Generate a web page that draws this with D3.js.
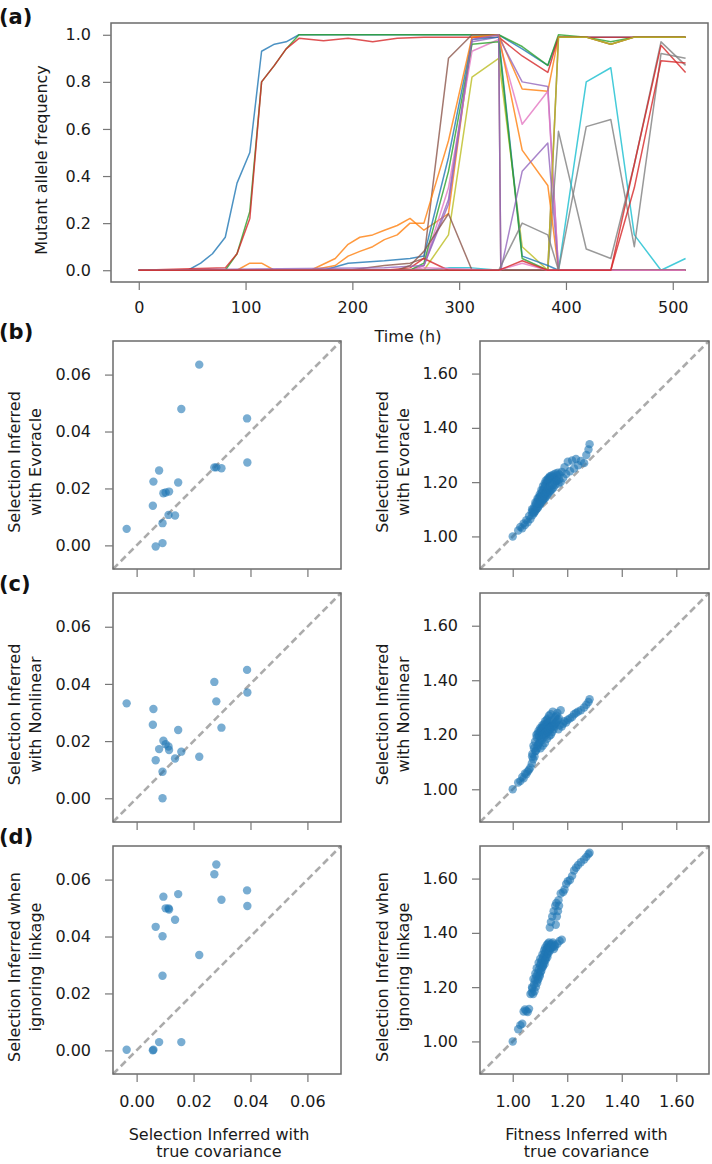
<!DOCTYPE html>
<html><head><meta charset="utf-8">
<script src="https://cdn.jsdelivr.net/npm/d3@7"></script>
<style>
body{margin:0;background:#fff}
svg{display:block}
text{font-family:"DejaVu Sans",sans-serif}
</style>
</head><body>
<svg id="chart" width="712" height="1164"></svg>
<script>
// ---------------- DATA ----------------
// (a) mutant allele frequency trajectories: [time (h), frequency] breakpoints
const traj0  = [[0,0],[46,0],[58,0.03],[69,0.07],[81,0.14],[92,0.37],[104,0.5],[115,0.93],[127,0.96],[138,0.97],[150,1.0],[337,1.0],[359,0.94],[383,0.87],[393,0.99],[512,0.99]];
const traj1  = [[0,0],[92,0],[104,0.03],[115,0.03],[127,0],[161,0],[184,0.05],[196,0.11],[207,0.14],[219,0.15],[230,0.17],[242,0.19],[254,0.22],[267,0.17],[290,0.24],[312,0.99],[337,1.0],[359,0.77],[383,0.76],[393,0.99],[419,0.99],[442,0.96],[464,0.99],[512,0.99]];
const traj2  = [[0,0],[81,0],[92,0.07],[104,0.25],[115,0.8],[127,0.87],[138,0.94],[150,1.0],[337,1.0],[359,0.95],[383,0.87],[393,1.0],[419,0.99],[442,0.97],[464,0.99],[512,0.99]];
const traj3  = [[0,0],[81,0.01],[92,0.07],[104,0.22],[115,0.8],[127,0.87],[138,0.94],[150,0.985],[173,0.975],[196,0.985],[219,0.97],[242,0.985],[267,0.99],[337,0.99],[359,0.91],[383,0.84],[393,0.99],[512,0.99]];
const traj4  = [[0,0],[254,0],[267,0.02],[290,0.28],[312,0.97],[337,0.99],[359,0.8],[383,0.78],[393,0],[512,0]];
const traj5  = [[0,0],[196,0],[230,0.02],[254,0.03],[267,0.05],[290,0.9],[312,1.0],[337,1.0],[339,0],[383,0],[393,0.99],[419,0.99],[442,0.96],[464,0.99],[512,0.99]];
const traj6  = [[0,0],[254,0],[267,0.02],[290,0.35],[312,0.93],[337,0.98],[359,0.62],[383,0.76],[393,0],[512,0]];
const traj7  = [[0,0],[383,0],[393,0.59],[419,0.09],[442,0.05],[464,0.45],[489,0.97],[512,0.87]];
const traj8  = [[0,0],[267,0],[290,0.15],[312,0.82],[337,0.9],[359,0.1],[383,0],[393,0.99],[419,0.99],[442,0.96],[464,0.99],[512,0.99]];
const traj9  = [[0,0],[267,0],[290,0.01],[312,0.01],[337,0],[393,0],[419,0.8],[442,0.86],[464,0.15],[489,0],[512,0.05]];
const traj10 = [[0,0],[173,0],[196,0.03],[230,0.04],[254,0.05],[267,0.06],[290,0.48],[312,0.98],[337,0.99],[359,0.06],[383,0.02],[393,0],[512,0]];
const traj11 = [[0,0],[161,0],[184,0.02],[196,0.06],[207,0.08],[219,0.1],[230,0.13],[242,0.15],[254,0.2],[267,0.2],[290,0.55],[312,0.99],[337,1.0],[359,0.51],[383,0.36],[393,0],[512,0]];
const traj12 = [[0,0],[254,0],[267,0.03],[290,0.42],[312,0.96],[337,0.97],[359,0.05],[383,0],[512,0]];
const traj13 = [[0,0],[230,0],[254,0.01],[267,0.05],[290,0],[442,0],[464,0.45],[489,0.955],[512,0.84]];
const traj14 = [[0,0],[230,0.01],[267,0.02],[290,0.3],[312,0.98],[337,1.0],[339,0],[359,0.42],[383,0.54],[393,0],[512,0]];
const traj15 = [[0,0],[242,0],[254,0.02],[267,0.08],[290,0.24],[312,0],[512,0]];
const traj16 = [[0,0],[254,0],[267,0.01],[337,0],[359,0.03],[383,0],[512,0]];
const traj17 = [[0,0],[337,0],[359,0.2],[383,0.15],[393,0],[419,0.61],[442,0.64],[464,0.1],[489,0.92],[512,0.9]];
const traj18 = [[0,0],[337,0],[359,0.04],[383,0],[442,0],[464,0.35],[489,0.89],[512,0.88]];
const trajectories = [traj0,traj1,traj2,traj3,traj4,traj5,traj6,traj7,traj8,traj9,traj10,traj11,traj12,traj13,traj14,traj15,traj16,traj17,traj18];
const trajColorIdx = [0,1,2,3,4,5,6,7,8,9,0,1,2,3,4,5,6,7,3];

const timeTicks = [0,100,200,300,400,500];
const freqTicks = [0,0.2,0.4,0.6,0.8,1.0];

// (b)-(d) left: selection coefficients
const selTrue      = [-0.0035,0.0057,0.0059,0.0067,0.0079,0.0091,0.0091,0.0094,0.0102,0.0112,0.0114,0.0135,0.0146,0.0157,0.0220,0.0273,0.0280,0.0298,0.0388,0.0389];
const selEvoracle  = [0.0058,0.0139,0.0224,-0.0004,0.0263,0.0078,0.0008,0.0183,0.0186,0.0107,0.0189,0.0105,0.0221,0.0479,0.0635,0.0274,0.0274,0.0271,0.0446,0.0291];
const selNonlinear = [0.0332,0.0257,0.0312,0.0133,0.0172,0.0093,0.0000,0.0201,0.0189,0.0181,0.0169,0.0139,0.0239,0.0163,0.0145,0.0407,0.0339,0.0247,0.0449,0.0370];
const selNoLinkage = [0.0002,0.0000,0.0002,0.0434,0.0029,0.0401,0.0262,0.0540,0.0499,0.0499,0.0495,0.0459,0.0549,0.0029,0.0335,0.0619,0.0653,0.0529,0.0562,0.0507];
const selTicks = [0,0.02,0.04,0.06];

// (b)-(d) right: fitness
const fitTrue = [1.000,1.020,1.028,1.035,1.040,1.045,1.050,1.055,1.060,1.065,
  1.070,1.072,1.075,1.078,1.080,1.082,1.085,1.087,1.090,1.092,
  1.094,1.096,1.098,1.100,1.102,1.104,1.106,1.108,1.110,1.112,
  1.114,1.116,1.118,1.120,1.122,1.124,1.126,1.128,1.130,1.132,
  1.134,1.136,1.138,1.140,1.142,1.145,1.148,1.150,1.153,1.156,
  1.160,1.164,1.168,1.172,1.176,1.180,1.185,1.190,1.196,1.202,
  1.210,1.218,1.225,1.232,1.240,1.250,1.262,1.270,1.278,1.282,
  1.071,1.076,1.083,1.088,1.091,1.095,1.099,1.101,1.105,1.109,
  1.111,1.115,1.117,1.119,1.121,1.125,1.127,1.129,1.131,1.133,
  1.137,1.139,1.143,1.147,1.151,1.155,1.158,1.162,1.166,1.170];
const fitEvoracle = [1.000,1.022,1.035,1.030,1.048,1.042,1.060,1.052,1.075,1.064,
  1.090,1.078,1.098,1.085,1.110,1.092,1.120,1.100,1.128,1.105,
  1.138,1.112,1.145,1.118,1.150,1.125,1.160,1.130,1.168,1.135,
  1.175,1.140,1.185,1.142,1.192,1.150,1.200,1.155,1.205,1.160,
  1.212,1.165,1.218,1.170,1.210,1.175,1.220,1.180,1.215,1.190,
  1.205,1.225,1.195,1.228,1.200,1.238,1.215,1.255,1.230,1.275,
  1.240,1.280,1.250,1.285,1.262,1.278,1.270,1.300,1.320,1.340,
  1.100,1.088,1.125,1.108,1.140,1.120,1.155,1.132,1.170,1.140,
  1.185,1.150,1.195,1.160,1.205,1.165,1.210,1.175,1.215,1.180,
  1.222,1.185,1.225,1.190,1.228,1.200,1.232,1.205,1.235,1.210];
const fitNonlinear = [1.000,1.025,1.030,1.045,1.040,1.058,1.055,1.065,1.072,1.080,
  1.095,1.130,1.110,1.150,1.120,1.175,1.140,1.200,1.150,1.205,
  1.165,1.195,1.170,1.210,1.150,1.220,1.180,1.225,1.160,1.230,
  1.190,1.215,1.170,1.235,1.200,1.240,1.185,1.245,1.210,1.230,
  1.195,1.250,1.220,1.200,1.240,1.210,1.255,1.220,1.230,1.265,
  1.270,1.280,1.220,1.235,1.290,1.230,1.240,1.250,1.245,1.255,
  1.260,1.265,1.275,1.280,1.285,1.290,1.300,1.310,1.320,1.330,
  1.120,1.160,1.140,1.190,1.160,1.215,1.180,1.225,1.190,1.235,
  1.200,1.240,1.205,1.250,1.210,1.255,1.215,1.260,1.220,1.270,
  1.225,1.275,1.230,1.285,1.235,1.240,1.245,1.250,1.255,1.260];
const fitNoLinkage = [1.000,1.045,1.060,1.065,1.110,1.118,1.112,1.108,1.120,1.175,
  1.180,1.195,1.175,1.210,1.185,1.225,1.200,1.240,1.215,1.250,
  1.230,1.265,1.245,1.280,1.255,1.290,1.270,1.300,1.280,1.310,
  1.290,1.320,1.300,1.330,1.310,1.340,1.320,1.345,1.330,1.350,
  1.340,1.420,1.355,1.440,1.345,1.460,1.350,1.480,1.355,1.500,
  1.510,1.360,1.520,1.370,1.545,1.375,1.550,1.560,1.580,1.590,
  1.595,1.610,1.630,1.640,1.650,1.660,1.670,1.680,1.690,1.695,
  1.200,1.230,1.250,1.270,1.225,1.290,1.240,1.305,1.260,1.320,
  1.275,1.335,1.285,1.345,1.300,1.355,1.310,1.360,1.325,1.365,
  1.335,1.345,1.360,1.365,1.340,1.350,1.430,1.460,1.480,1.500];
const fitTicks = [1.0,1.2,1.4,1.6];

const rowLetters = ["(b)","(c)","(d)"];
const rowYLabels = [["Selection Inferred","with Evoracle"],["Selection Inferred","with Nonlinear"],["Selection Inferred when","ignoring linkage"]];

// ---------------- DRAW ----------------
const svg = d3.select("#chart");
const FS = 16;
const frameColor = "#6b6b6b";
const tickColor = "#777";

function styleAxis(g){
  g.select(".domain").remove();
  g.attr("font-size", FS).attr("font-family", "DejaVu Sans, sans-serif");
  g.selectAll(".tick line").attr("stroke", tickColor).attr("stroke-width", 1.2);
  g.selectAll(".tick text").attr("fill", "#1a1a1a");
}

// ----- panel (a) -----
const A = {x0:111, x1:708, y0:23, y1:282};
const xA = d3.scaleLinear().domain([-26, 533]).range([A.x0, A.x1]);
const yA = d3.scaleLinear().domain([-0.05, 1.05]).range([A.y1, A.y0]);

svg.append("clipPath").attr("id","clipA").append("rect")
  .attr("x",A.x0).attr("y",A.y0).attr("width",A.x1-A.x0).attr("height",A.y1-A.y0);

const line = d3.line().x(d=>xA(d[0])).y(d=>yA(d[1]));
svg.append("g").attr("clip-path","url(#clipA)")
  .selectAll("path").data(trajectories).join("path")
  .attr("d", line)
  .attr("fill","none")
  .attr("stroke",(d,i)=>d3.schemeCategory10[trajColorIdx[i]])
  .attr("stroke-width",1.5)
  .attr("stroke-opacity",0.8)
  .attr("stroke-linejoin","round");

svg.append("rect").attr("x",A.x0).attr("y",A.y0).attr("width",A.x1-A.x0).attr("height",A.y1-A.y0)
  .attr("fill","none").attr("stroke",frameColor).attr("stroke-width",1.5);

svg.append("g").attr("transform",`translate(${A.x0},0)`)
  .call(d3.axisLeft(yA).tickValues(freqTicks).tickFormat(d3.format(".1f")).tickSize(8).tickPadding(12))
  .call(styleAxis);
svg.append("g").attr("transform",`translate(0,${A.y1})`)
  .call(d3.axisBottom(xA).tickValues(timeTicks).tickFormat(d3.format("d")).tickSize(8).tickPadding(12))
  .call(styleAxis);

svg.append("text").attr("x",408).attr("y",342).attr("text-anchor","middle")
  .attr("font-size",FS).attr("fill","#1a1a1a").text("Time (h)");
svg.append("text").attr("transform","translate(47,160) rotate(-90)").attr("text-anchor","middle")
  .attr("font-size",FS).attr("fill","#1a1a1a").text("Mutant allele frequency");
svg.append("text").attr("x",-1).attr("y",24).attr("font-size",21).attr("font-weight","bold")
  .attr("fill","#111").text("(a)");

// ----- scatter panels -----
const rows = [{y0:341,y1:569},{y0:593,y1:822},{y0:846,y1:1074}];
const leftX = {x0:113, x1:341};
const rightX = {x0:480, x1:709};
const selDom = [-0.0083, 0.0718];
const fitDom = [0.88, 1.72];
const selY = [selEvoracle, selNonlinear, selNoLinkage];
const fitY = [fitEvoracle, fitNonlinear, fitNoLinkage];

function scatter(cols, row, dom, ticks, fmt, xs, ys, showX, yLab, labBase){
  const sx = d3.scaleLinear().domain(dom).range([cols.x0, cols.x1]);
  const sy = d3.scaleLinear().domain(dom).range([row.y1, row.y0]);
  const g = svg.append("g");
  g.append("line")
    .attr("x1",sx(dom[0])).attr("y1",sy(dom[0])).attr("x2",sx(dom[1])).attr("y2",sy(dom[1]))
    .attr("stroke","#ababab").attr("stroke-width",2.6).attr("stroke-dasharray","7,4");
  g.selectAll("circle").data(d3.zip(xs, ys)).join("circle")
    .attr("cx",d=>sx(d[0])).attr("cy",d=>sy(d[1])).attr("r",4.2)
    .attr("fill","#1f77b4").attr("fill-opacity",0.6);
  g.append("rect").attr("x",cols.x0).attr("y",row.y0).attr("width",cols.x1-cols.x0).attr("height",row.y1-row.y0)
    .attr("fill","none").attr("stroke",frameColor).attr("stroke-width",1.5);
  g.append("g").attr("transform",`translate(${cols.x0},0)`)
    .call(d3.axisLeft(sy).tickValues(ticks).tickFormat(d3.format(fmt)).tickSize(8).tickPadding(14))
    .call(styleAxis);
  g.append("g").attr("transform",`translate(0,${row.y1})`)
    .call(d3.axisBottom(sx).tickValues(ticks).tickFormat(showX ? d3.format(fmt) : () => "").tickSize(8).tickPadding(14))
    .call(styleAxis);
  const cy = (row.y0 + row.y1)/2 + 7;
  yLab.forEach((t,i)=>{
    g.append("text").attr("transform",`translate(${labBase[i]},${cy}) rotate(-90)`)
      .attr("text-anchor","middle").attr("font-size",FS).attr("fill","#1a1a1a").text(t);
  });
  return sx;
}

rows.forEach((row, r)=>{
  const last = r === rows.length-1;
  scatter(leftX, row, selDom, selTicks, ".2f", selTrue, selY[r], last, rowYLabels[r], [19.5, 41]);
  scatter(rightX, row, fitDom, fitTicks, ".2f", fitTrue, fitY[r], last, rowYLabels[r], [388, 409]);
  svg.append("text").attr("x",-1).attr("y",row.y0 - 2).attr("font-size",21).attr("font-weight","bold")
    .attr("fill","#111").text(rowLetters[r]);
});

// x labels under bottom row
const xlabL = ["Selection Inferred with","true covariance"];
const xlabR = ["Fitness Inferred with","true covariance"];
[[xlabL, (leftX.x0+leftX.x1)/2 - 8],[xlabR, (rightX.x0+rightX.x1)/2 - 8]].forEach(([lines, cx])=>{
  lines.forEach((t,i)=>{
    svg.append("text").attr("x",cx).attr("y",[1140,1157][i]).attr("text-anchor","middle")
      .attr("font-size",FS).attr("fill","#1a1a1a").text(t);
  });
});
</script>
</body></html>
